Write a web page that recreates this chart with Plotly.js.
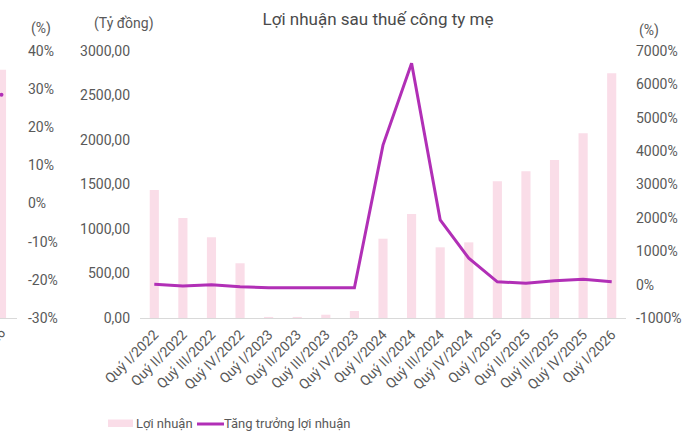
<!DOCTYPE html>
<html>
<head>
<meta charset="utf-8">
<script src="https://cdn.plot.ly/plotly-3.0.1.min.js"></script>
<style>
html,body{margin:0;padding:0;background:#fff;}
#chart{width:684px;height:434px;}
</style>
</head>
<body>
<div id="chart"></div>
<script>
const categories = ['Quý I/2022','Quý II/2022','Quý III/2022','Quý IV/2022','Quý I/2023','Quý II/2023','Quý III/2023','Quý IV/2023','Quý I/2024','Quý II/2024','Quý III/2024','Quý IV/2024','Quý I/2025','Quý II/2025','Quý III/2025','Quý IV/2025','Quý I/2026'];
const profit = [1438, 1124, 907, 615, 12, 12, 37, 79, 891, 1169, 794, 850, 1536, 1648, 1775, 2075, 2749];
const growth = [9, -42, -3, -63, -95, -95, -95, -95, 4180, 6630, 1940, 790, 85, 40, 118, 160, 85];

const leftTickVals = [0, 500, 1000, 1500, 2000, 2500, 3000];
const leftTickText = ['0,00', '500,00', '1000,00', '1500,00', '2000,00', '2500,00', '3000,00'];
const rightTickVals = [-1000, 0, 1000, 2000, 3000, 4000, 5000, 6000, 7000];
const rightTickText = ['-1000%', '0%', '1000%', '2000%', '3000%', '4000%', '5000%', '6000%', '7000%'];

// partial neighbouring chart visible at the left edge
const partCats = ['Quý I/2026'];
const partProfit = [2790];
const partGrowth = [28.5];
const partTickVals = [-30, -20, -10, 0, 10, 20, 30, 40];
const partTickText = ['-30%', '-20%', '-10%', '0%', '10%', '20%', '30%', '40%'];

const W = 684, H = 434;
const px = x => x / W;
const py = y => 1 - y / H;

const barColor = '#fadde8';
const lineColor = '#b12fb6';
const textColor = '#595959';
const FONT = 'Roboto, "Noto Sans", sans-serif';

const traces = [
  {type: 'bar', x: categories, y: profit, xaxis: 'x', yaxis: 'y', marker: {color: barColor}, width: 0.32, name: 'Lợi nhuận', hoverinfo: 'x+y'},
  {type: 'scatter', mode: 'lines', x: categories, y: growth, xaxis: 'x', yaxis: 'y2', line: {color: lineColor, width: 3}, name: 'Tăng trưởng lợi nhuận'},
  {type: 'bar', x: partCats, y: partProfit, xaxis: 'x3', yaxis: 'y3', marker: {color: barColor}, width: 0.32, showlegend: false},
  {type: 'scatter', mode: 'markers', x: partCats, y: partGrowth, xaxis: 'x3', yaxis: 'y4', marker: {color: lineColor, size: 4}, showlegend: false, cliponaxis: false}
];

const yDomain = [py(318), py(51)];

const layout = {
  width: W, height: H,
  margin: {l: 0, r: 0, t: 0, b: 0},
  paper_bgcolor: '#fff', plot_bgcolor: 'rgba(0,0,0,0)',
  showlegend: false,
  font: {family: FONT, color: textColor, size: 14},
  title: {text: 'Lợi nhuận sau thuế công ty mẹ', x: px(378), xanchor: 'center', xref: 'paper', y: py(19), yref: 'container', yanchor: 'middle', font: {family: FONT, size: 17, color: '#4a4a4a'}},
  xaxis: {domain: [px(140), px(626)], type: 'category', showline: true, linecolor: '#d9d9d9', linewidth: 1, ticks: '', tickangle: -45, ticklabelstandoff: 2, tickfont: {size: 14, color: textColor}, showgrid: false, zeroline: false, anchor: 'y', fixedrange: true},
  yaxis: {domain: yDomain, range: [0, 3000], tickvals: leftTickVals, ticktext: leftTickText, showgrid: false, zeroline: false, showline: false, ticks: '', ticklabelstandoff: 9, tickfont: {size: 14, color: textColor}, anchor: 'x'},
  yaxis2: {domain: yDomain, range: [-1000, 7000], tickvals: rightTickVals, ticktext: rightTickText, overlaying: 'y', side: 'right', anchor: 'x', showgrid: false, zeroline: false, showline: false, ticks: '', ticklabelstandoff: 9, tickfont: {size: 14, color: textColor}},
  xaxis3: {domain: [0, px(17)], type: 'category', range: [-0.052, 0.542], showline: true, linecolor: '#d9d9d9', linewidth: 1, ticks: '', tickangle: -45, tickfont: {size: 14, color: textColor}, showgrid: false, zeroline: false, anchor: 'y3'},
  yaxis3: {domain: yDomain, range: [0, 3000], visible: false, anchor: 'x3'},
  yaxis4: {domain: yDomain, range: [-30, 40], tickvals: partTickVals, ticktext: partTickText, overlaying: 'y3', side: 'right', anchor: 'free', position: px(27), showgrid: false, zeroline: false, showline: false, ticks: '', tickfont: {size: 14, color: textColor}},
  annotations: [
    {text: '(Tỷ đồng)', xref: 'paper', yref: 'paper', x: px(92), y: py(23), xanchor: 'left', yanchor: 'middle', showarrow: false, font: {size: 14, color: textColor}},
    {text: '(%)', xref: 'paper', yref: 'paper', x: px(637), y: py(30), xanchor: 'left', yanchor: 'middle', showarrow: false, font: {size: 14, color: textColor}},
    {text: '(%)', xref: 'paper', yref: 'paper', x: px(29), y: py(29), xanchor: 'left', yanchor: 'middle', showarrow: false, font: {size: 14, color: textColor}},
    {text: 'Lợi nhuận', xref: 'paper', yref: 'paper', x: px(134), y: py(423), xanchor: 'left', yanchor: 'middle', showarrow: false, font: {size: 13, color: textColor}},
    {text: 'Tăng trưởng lợi nhuận', xref: 'paper', yref: 'paper', x: px(222), y: py(423), xanchor: 'left', yanchor: 'middle', showarrow: false, font: {size: 13, color: textColor}}
  ],
  shapes: [
    {type: 'rect', xref: 'paper', yref: 'paper', x0: px(108), x1: px(133), y0: py(427), y1: py(419.5), fillcolor: barColor, line: {width: 0}},
    {type: 'line', xref: 'paper', yref: 'paper', x0: px(197), x1: px(224), y0: py(424), y1: py(424), line: {color: lineColor, width: 3}}
  ]
};

Plotly.newPlot('chart', traces, layout, {displayModeBar: false, staticPlot: true});
</script>
</body>
</html>
